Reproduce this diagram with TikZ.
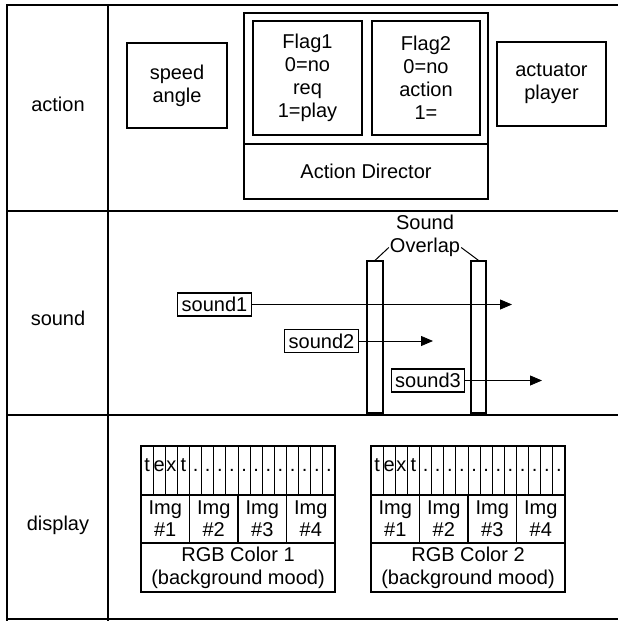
\documentclass[tikz,border=0pt]{standalone}
\usepackage{fontspec}
\setmainfont{Liberation Sans}
\usetikzlibrary{shapes,arrows.meta,positioning,calc}
\tikzstyle{line} = [draw, line width=0.8pt, -{Triangle[length=12pt,width=10pt]}]
\tikzstyle{box} = [draw, rectangle, line width=1.2pt, align=center, inner sep=0pt]
\tikzstyle{sbox} = [draw, rectangle, line width=1.2pt, inner xsep=4pt, inner ysep=0pt, minimum height=23pt]

\begin{document}
\begin{tikzpicture}[x=1pt, y=-1pt, font=\fontsize{20}{23}\selectfont]
    \useasboundingbox (0,0) rectangle (618,621);

    % frame and rows
    \draw[line width=1.6pt] (618,5) -- (7,5) -- (7,621);
    \draw[line width=1.6pt] (108,5) -- (108,621);
    \draw[line width=1.6pt] (7,211) -- (618,211);
    \draw[line width=1.6pt] (7,415) -- (618,415);
    \draw[line width=1.6pt] (7,619) -- (618,619);

    \node (lblaction) at (58,104) {action};
    \node (lblsound) at (58,318) {sound};
    \node (lbldisplay) at (58,525) {display};

    % action row
    \node [box, minimum width=100pt, minimum height=85pt] (speed) at (177,85.5) {speed\\angle};
    \node [box, minimum width=244pt, minimum height=186pt] (director) at (366,106) {};
    \node [box, minimum width=244pt, minimum height=55pt] (dirlabel) at (366,171.5) {Action Director};
    \node [box, minimum width=109pt, minimum height=114pt] (flagA) at (307.5,78) {Flag1\\0=no\\req\\1=play};
    \node [box, minimum width=108pt, minimum height=114pt] (flagB) at (426,78) {Flag2\\0=no\\action\\1=};
    \node [box, minimum width=109pt, minimum height=84pt] (actuator) at (551.5,84) {actuator\\player};

    % sound row
    \node [align=center, inner sep=1pt] (ovl) at (425,235.5) {Sound\\Overlap};
    \node [draw, line width=1.2pt, minimum width=16pt, minimum height=152pt, inner sep=0pt] (barA) at (375,337) {};
    \node [draw, line width=1.2pt, minimum width=15pt, minimum height=152pt, inner sep=0pt] (barB) at (478.5,337) {};
    \draw [line width=1pt] (barA.north) -- ([yshift=-12pt]ovl.west);
    \draw [line width=1pt] (barB.north) -- ([yshift=-12pt]ovl.east);

    \node [sbox] (snd1) at (214.5,304.5) {sound1};
    \node [sbox] (snd2) at (321.5,341) {sound2};
    \node [sbox] (snd3) at (428,380.5) {sound3};
    \coordinate (end1) at (512,304.5);
    \coordinate (end2) at (433,341);
    \coordinate (end3) at (542,380.5);
    \path [line] (snd1) -- (end1);
    \path [line] (snd2) -- (end2);
    \path [line] (snd3) -- (end3);

    % display row
    \foreach \tx/\k in {141/1,371/2} {
        \draw [line width=1.2pt] (\tx,446) rectangle ++(194,146);
        \draw [line width=1.2pt] (\tx,495) -- ++(194,0) (\tx,543) -- ++(194,0);
        \foreach \i in {1,...,15}
            \draw [line width=0.9pt] (\tx+\i*12.125,446) -- (\tx+\i*12.125,495);
        \foreach \c [count=\i from 0] in {t,e,x,t,.,.,.,.,.,.,.,.,.,.,.,.}
            \node [inner sep=0pt, anchor=base] (txt\k-\i) at (\tx+\i*12.125+6.06,471) {\c};
        \foreach \j in {1,2,3}
            \draw [line width=1.2pt] (\tx+\j*48.5,495) -- (\tx+\j*48.5,543);
        \foreach \j in {1,...,4}
            \node [align=center, inner sep=0pt, font=\fontsize{20}{22}\selectfont] (img\k-\j) at (\tx+\j*48.5-24.25,519) {Img\\\#\j};
        \node [align=center, inner sep=0pt] (rgb\k) at (\tx+97,567.5) {RGB Color \k\\(background mood)};
    }
\end{tikzpicture}
\end{document}
